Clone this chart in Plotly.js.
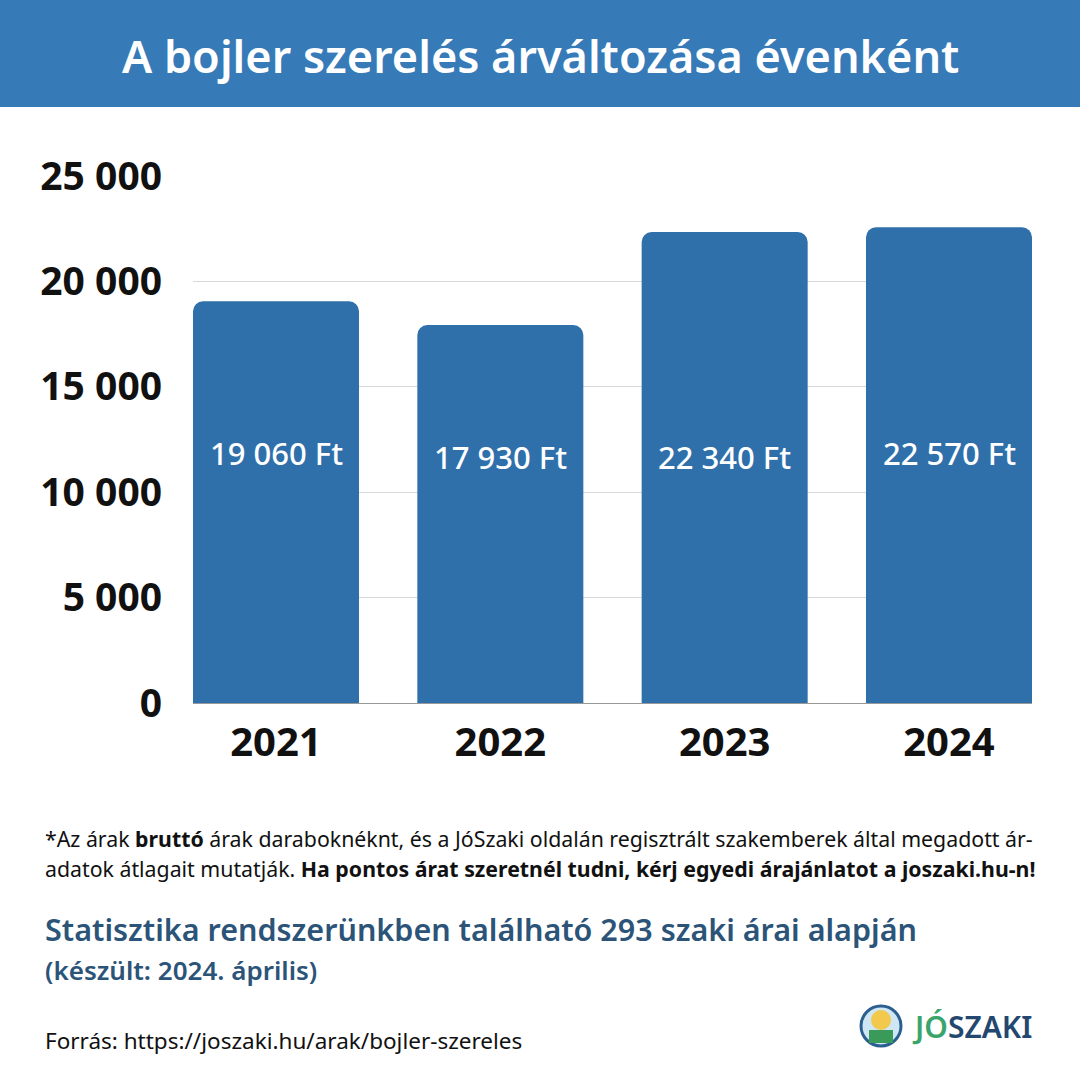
<!DOCTYPE html>
<html><head><meta charset="utf-8">
<script src="https://cdn.plot.ly/plotly-3.0.1.min.js"></script>
<style>html,body{margin:0;padding:0;background:#fff}#c{width:1080px;height:1080px}</style>
</head><body><div id="c"></div>
<script>
const years = ['2021','2022','2023','2024'];
const prices = [19060, 17930, 22340, 22570];
const priceLabels = ['19 060 Ft','17 930 Ft','22 340 Ft','22 570 Ft'];
const yTickVals = [0,5000,10000,15000,20000,25000];
const yTickText = ['0','5 000','10 000','15 000','20 000','25 000'];

const W=1080,H=1080, L=193, R=48, T=176, B=377;
const pw=W-L-R, ph=H-T-B;
const px=x=>(x-L)/pw, py=y=>(H-B-y)/ph;

const FONT='"Noto Sans", "Open Sans", sans-serif';
const blue='#2f70ab', head='#377ab8', dark='#2b5478';

const trace={type:'bar',x:years,y:prices,marker:{color:blue,cornerradius:10},
  hoverinfo:'none',cliponaxis:false};

const labelY=[453,457,457,453];
const annotations = years.map((yr,i)=>({xref:'x',yref:'paper',x:i,y:py(labelY[i]),
  text:priceLabels[i],showarrow:false,font:{family:FONT,size:31,color:'#fff',weight:500},
  xanchor:'center',yanchor:'middle'}));

annotations.push(
 {xref:'paper',yref:'paper',x:px(540),y:py(55),text:'A bojler szerelés árváltozása évenként',showarrow:false,
  font:{family:FONT,size:45,color:'#fff',weight:600},xanchor:'center',yanchor:'middle'},
 {xref:'paper',yref:'paper',x:px(43),y:py(838),text:'*Az árak <b>bruttó</b> árak daraboknéknt, és a JóSzaki oldalán regisztrált szakemberek által megadott ár-',showarrow:false,
  font:{family:FONT,size:21.3,color:'#111'},xanchor:'left',yanchor:'middle'},
 {xref:'paper',yref:'paper',x:px(43),y:py(868),text:'adatok átlagait mutatják. <b>Ha pontos árat szeretnél tudni, kérj egyedi árajánlatot a joszaki.hu-n!</b>',showarrow:false,
  font:{family:FONT,size:21.3,color:'#111'},xanchor:'left',yanchor:'middle'},
 {xref:'paper',yref:'paper',x:px(43),y:py(929),text:'Statisztika rendszerünkben található 293 szaki árai alapján',showarrow:false,
  font:{family:FONT,size:30.5,color:dark,weight:600},xanchor:'left',yanchor:'middle'},
 {xref:'paper',yref:'paper',x:px(43),y:py(970),text:'(készült: 2024. április)',showarrow:false,
  font:{family:FONT,size:26,color:dark,weight:600},xanchor:'left',yanchor:'middle'},
 {xref:'paper',yref:'paper',x:px(43),y:py(1040),text:'Forrás: https://joszaki.hu/arak/bojler-szereles',showarrow:false,
  font:{family:FONT,size:22.5,color:'#111'},xanchor:'left',yanchor:'middle'},
 {xref:'paper',yref:'paper',x:px(910),y:py(1026),text:'<span style="color:#3aa56a">JÓ</span>SZAKI',showarrow:false,
  font:{family:FONT,size:30,color:'#23476e',weight:600},xanchor:'left',yanchor:'middle'}
);

const shapes=[
 {type:'rect',xref:'paper',yref:'paper',x0:px(-5),x1:px(1085),y0:py(107),y1:py(-5),fillcolor:head,line:{width:0},layer:'below'},
 {type:'circle',xref:'paper',yref:'paper',x0:px(861),x1:px(901),y0:py(1046),y1:py(1006),fillcolor:'#cfe6f5',line:{color:'#2b5f8f',width:3}},
 {type:'circle',xref:'paper',yref:'paper',x0:px(871),x1:px(891),y0:py(1030),y1:py(1010),fillcolor:'#f2c94c',line:{width:0}},
 {type:'rect',xref:'paper',yref:'paper',x0:px(869),x1:px(893),y0:py(1043),y1:py(1030),fillcolor:'#3a9a5a',line:{width:0}}
];

const layout={width:W,height:H,margin:{l:L,r:R,t:T,b:B},paper_bgcolor:'#fff',plot_bgcolor:'#fff',
  showlegend:false,bargap:0.26,font:{family:FONT},
  xaxis:{type:'category',range:[-0.37,3.37],showgrid:false,zeroline:false,showline:true,linecolor:'#999',linewidth:1,
    ticks:'',tickfont:{family:FONT,size:40,color:'#111',weight:700},ticklabelstandoff:4,fixedrange:true},
  yaxis:{range:[0,25000],tickvals:yTickVals,ticktext:yTickText,showgrid:true,gridcolor:'#d9d9d9',gridwidth:1,
    zeroline:false,showline:false,ticks:'',ticklabelstandoff:30,tickfont:{family:FONT,size:39,color:'#111',weight:700},fixedrange:true},
  annotations:annotations,shapes:shapes};

Plotly.newPlot('c',[trace],layout,{displayModeBar:false,staticPlot:true});
</script></body></html>
